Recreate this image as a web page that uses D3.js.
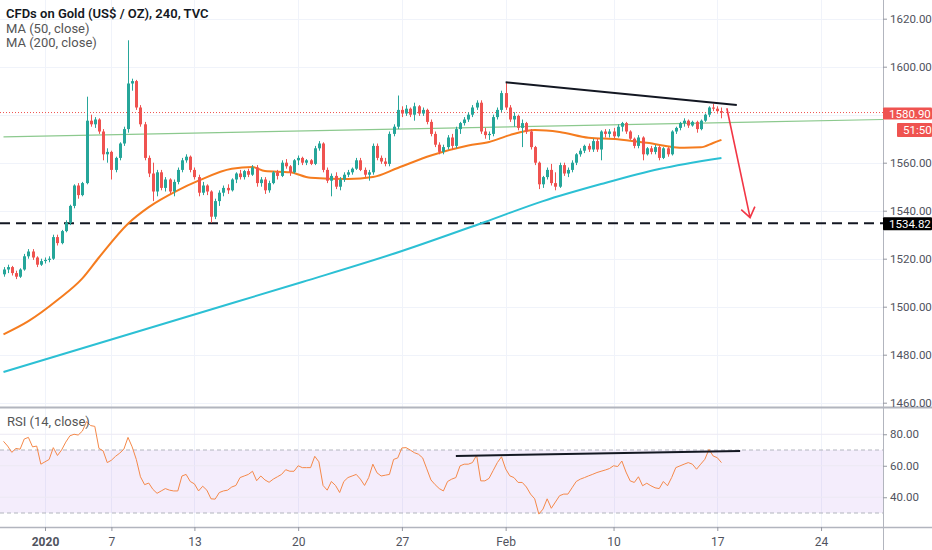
<!DOCTYPE html>
<html>
<head>
<meta charset="utf-8">
<script src="https://cdn.jsdelivr.net/npm/d3@7"></script>
<style>
  body { margin: 0; background: #fff; }
  svg { display: block; font-family: Roboto, "Liberation Sans", sans-serif; }
</style>
</head>
<body>
<svg id="chart" width="932" height="550"></svg>
<script>
// 4h candles of TVC gold: [open, high, low, close]
const ohlc = [
  [1513.5,1516.5,1512.5,1515.5],[1515.5,1517.5,1514,1516.5],[1516.5,1517,1513,1514],[1514,1515,1511.5,1512.5],
  [1512.5,1516,1512,1515.5],[1515.5,1522,1515,1521],[1521,1524,1520,1523],[1523,1524,1519.5,1520.5],
  [1520.5,1521,1516.5,1517.5],[1517.5,1520,1517,1519],[1519,1520.5,1518,1519.5],[1519.5,1521,1518.5,1520],
  [1520,1530,1519.5,1529],[1529,1530,1525.5,1526.5],[1526.5,1532,1526,1531.5],[1531.5,1536,1531,1535],
  [1535,1542.5,1534,1542],[1542,1551,1541,1550.5],[1550.5,1551.5,1545,1546.5],[1546.5,1552,1546,1551.5],
  [1551.5,1587.5,1551,1577.5],[1577.5,1580,1575,1576],[1576,1579,1574.5,1578],[1578,1578.5,1572,1573],
  [1573,1574,1561,1563.5],[1563.5,1566,1560,1564.5],[1564.5,1565,1553,1557],[1557,1562.5,1556,1562],
  [1562,1568.5,1561,1568],[1568,1575,1567,1574],[1574,1611,1572.5,1593],[1593,1595,1590,1594],
  [1594,1594.5,1582,1583],[1583,1584,1575,1576],[1576,1577,1561,1562],[1562,1563,1554,1555.5],
  [1555.5,1560,1544,1548],[1548,1557,1546,1556],[1556,1557,1548.5,1549.5],[1549.5,1554,1548,1553],
  [1553,1553.5,1547,1548],[1548,1553,1546,1552],[1552,1558,1551,1557],[1557,1562,1556,1561],
  [1561,1563.5,1560,1562.5],[1562.5,1563,1556,1557],[1557,1558,1553,1554],[1554,1555,1546,1547.5],
  [1547.5,1552,1546.5,1550.5],[1550.5,1551,1546.5,1548],[1548,1548.5,1535,1537.5],[1537.5,1545,1536.5,1544],
  [1544,1548.5,1542,1547.5],[1547.5,1550.5,1546,1549.5],[1549.5,1551,1547,1548.5],[1548.5,1553.5,1548,1553],
  [1553,1556,1551.5,1555.5],[1555.5,1557,1553,1554],[1554,1557,1553,1556.5],[1556.5,1557.5,1554,1555],
  [1555,1559,1554.5,1558],[1558,1559,1550,1551.5],[1551.5,1554,1550,1553],[1553,1554,1547,1548.5],
  [1548.5,1552.5,1547.5,1551.5],[1551.5,1556.5,1551,1556],[1556,1557,1553,1554.5],[1554.5,1561,1554,1560],
  [1560,1561.5,1557.5,1558.5],[1558.5,1559,1554.5,1556],[1556,1561.5,1555.5,1561],[1561,1563,1559,1562],
  [1562,1562.5,1559,1560],[1560,1561.5,1559,1561],[1561,1561.5,1559,1559.5],[1559.5,1567,1559,1566],
  [1566,1569,1565,1568],[1568,1568.5,1556,1557],[1557,1558,1551.5,1552.5],[1552.5,1555.5,1546,1554.5],
  [1554.5,1556,1549,1550],[1550,1554,1548.5,1553],[1553,1556,1552,1555],[1555,1557,1554,1556],
  [1556,1558,1555,1557.5],[1557.5,1562,1557,1561],[1561,1562,1556.5,1557],[1557,1558,1554,1555],
  [1555,1557,1552.5,1556],[1556,1568,1555,1567],[1567,1568,1561,1562],[1562,1563,1559.5,1560.5],
  [1560.5,1562,1558.5,1559.5],[1559.5,1573,1558.5,1572],[1572,1576,1571,1575],[1575,1588,1574,1582],
  [1582,1583.5,1579,1580.5],[1580.5,1584,1579.5,1582.5],[1582.5,1583,1579,1580],[1580,1585,1577.5,1583.5],
  [1583.5,1584,1579.5,1580.5],[1580.5,1583,1579.5,1582],[1582,1582.5,1576,1577],[1577,1578,1571,1572],
  [1572,1573,1566.5,1567.5],[1567.5,1568.5,1563.5,1564.5],[1564.5,1567.5,1563.5,1566.5],[1566.5,1571.5,1565.5,1570.5],
  [1570.5,1572,1565.5,1567],[1567,1575,1566,1574],[1574,1577,1572,1576.5],[1576.5,1579,1575.5,1578],
  [1578,1581,1577,1580],[1580,1584,1579,1583],[1583,1586,1582,1585],[1585,1586,1572,1573],
  [1573,1574.5,1570,1571.5],[1571.5,1573,1569.5,1572],[1572,1580,1571,1579],[1579,1583,1578,1582],
  [1582,1590,1581,1589],[1589,1593.5,1582,1583],[1583,1584,1577,1578],[1578,1581,1575,1579.5],
  [1579.5,1580,1573.5,1574.5],[1574.5,1578,1566.5,1576.5],[1576.5,1577,1572,1573],[1573,1574,1565.5,1566.5],
  [1566.5,1567,1559,1560],[1560,1560.5,1549,1551],[1551,1554.5,1549.5,1554],[1554,1558,1553,1557],
  [1557,1559.5,1550.5,1551.5],[1551.5,1556,1548.5,1550],[1550,1560,1549.5,1559],[1559,1560,1554.5,1555.5],
  [1555.5,1558,1554,1557],[1557,1561,1556,1560],[1560,1564,1559,1563.5],[1563.5,1566,1562.5,1565],
  [1565,1567.5,1564,1567],[1567,1568,1564.5,1565.5],[1565.5,1570,1564.5,1569],[1569,1570,1564.5,1565.5],
  [1565.5,1573.5,1561,1573],[1573,1574,1570.5,1572],[1572,1574,1570.5,1573],[1573,1574.5,1570,1571],
  [1571,1576,1570.5,1575],[1575,1577,1573,1576.5],[1576.5,1577,1572,1573],[1573,1573.5,1569.5,1570],
  [1570,1570.5,1566,1567],[1567,1571.5,1566,1570.5],[1570.5,1571,1561,1563.5],[1563.5,1566.5,1563,1566],
  [1566,1567,1563.5,1564.5],[1564.5,1567.5,1563.5,1566.5],[1566.5,1567,1561,1562],[1562,1566.5,1561.5,1566],
  [1566,1566.5,1562.5,1563.5],[1563.5,1573.5,1563,1573],[1573,1575,1572,1574.5],[1574.5,1577,1573.5,1576.5],
  [1576.5,1578.5,1575,1577.5],[1577.5,1578,1574.5,1575.5],[1575.5,1577.5,1575,1577],[1577,1577.5,1572.5,1574],
  [1574,1578,1573.5,1577.5],[1577.5,1580.5,1577,1580],[1580,1583.5,1579,1583],[1583,1584.5,1581.5,1582.5],
  [1582.5,1583.5,1580.5,1581.5],[1581.5,1583,1578.5,1580.9]
];

// RSI (14) per candle
const rsi = [
  75.5,72.5,68.5,71,70.5,77,78,72,72.5,61,62.5,64,71.5,66.5,70,75,79,80,79.5,82,
  88,85.5,85,71,69.5,62,63.5,66,68,70.5,78,72,64,53,48,49,45,42.5,44,45.5,
  44.5,44,44,53.5,54.5,50,48.5,44,47,44.5,39,38.8,43,44,44.5,46.5,47.5,52.5,53.5,54.5,
  56.5,50.5,53.5,51,49.5,51.5,53,54.5,57.5,56.5,56.5,60,58.8,58.8,58.8,66,62.5,47.5,44.5,50,
  47.5,43,50,52.5,53.5,54.5,51.5,47.5,52.5,61,55.5,53.5,54,54.5,64,65,71.3,71.5,70,68.3,
  67.3,65,58,51,48,45.5,44,50,51.5,52.5,59.9,61,61,62,66.7,50.4,50.4,52,57,62,
  65.7,58,53.6,52.5,49.4,49.4,46.5,42,39,29.3,32.5,39,33,37,41,42,42,46,50,51.5,
  52.5,53.6,54.6,55.7,56.5,57.3,58.2,60,59.5,63,56,50.4,49.4,53,47.3,48.9,47.3,46,45.5,50,
  47.3,52.5,58.8,59.9,61,62,61,57.8,61,64.1,70.4,66.2,65.1,62
];

// moving averages, read at candle indices
const ma50Idx = [0,6,13,19,23,30,35,42,47,55,60,63,69,74,83,89,95,103,112,117,122,128,134,141,148,155,164,168,171,173];
const ma50 = [1488.5,1494,1502.8,1511.8,1520.5,1534.6,1541.5,1548.5,1552.5,1557.5,1558.2,1556.5,1556,1553.7,1553.2,1554,1557.8,1563,1567.2,1568.6,1571.5,1573.6,1572.8,1570.4,1569.8,1568.3,1566.2,1566.4,1568.2,1569.5];
const ma200Idx = [0,24,48,72,96,116,130,144,158,173];
const ma200 = [1472.8,1485.3,1497.8,1510.3,1523.2,1535.3,1544,1551.1,1557.4,1562];

// axes
const timeTickIdx = [10,26,46,71,96,121,147,172,197];
const timeLabels = ["2020","7","13","20","27","Feb","10","17","24"];
const priceTicks = [1460,1480,1500,1520,1540,1560,1580,1600,1620];
const rsiTicks = [40,60,80];
const lastPrice = 1580.90;
const supportLevel = 1534.82;
const countdown = "51:50";

// drawings: [candle index, value]
const greenLine = [[0,1570.8],[212,1578]];
const topLine = [[121,1593.5],[176.7,1584]];
const arrowLine = [[174.3,1582.7],[179.9,1537.1]];
const rsiLine = [[109,66.2],[177.5,69.4]];

const svg = d3.select("#chart");
const plotRight = 883, mainBottom = 407, rsiTop = 408, rsiBottom = 527;
const up = "#26a69a", down = "#ef5350", grid = "#f0f3fa";

const x = d3.scaleLinear().domain([0,212]).range([3.5, 883.3]);
const y = d3.scaleLinear().domain([1460,1620]).range([402.7, 18.7]);
const yr = d3.scaleLinear().domain([30,70]).range([513, 450]);

svg.append("defs").append("clipPath").attr("id","mainClip")
  .append("rect").attr("x",0).attr("y",0).attr("width",plotRight).attr("height",mainBottom);
svg.append("defs").append("clipPath").attr("id","rsiClip")
  .append("rect").attr("x",0).attr("y",rsiTop).attr("width",plotRight).attr("height",rsiBottom - rsiTop);

// grid
const gridG = svg.append("g").attr("stroke", grid).attr("stroke-width",1);
gridG.selectAll(".vg").data(timeTickIdx).enter().append("line")
  .attr("x1", d => Math.round(x(d)) + 0.5).attr("x2", d => Math.round(x(d)) + 0.5)
  .attr("y1", 0).attr("y2", rsiBottom);
gridG.selectAll(".hg").data(priceTicks).enter().append("line")
  .attr("x1", 0).attr("x2", plotRight)
  .attr("y1", d => Math.round(y(d)) + 0.5).attr("y2", d => Math.round(y(d)) + 0.5);

// RSI band
svg.append("rect").attr("x",0).attr("width",plotRight)
  .attr("y", yr(70)).attr("height", yr(30) - yr(70))
  .attr("fill","rgba(149,80,230,0.1)");
svg.append("g").selectAll("line").data(rsiTicks).enter().append("line")
  .attr("x1",0).attr("x2",plotRight)
  .attr("y1", d => yr(d)).attr("y2", d => yr(d))
  .attr("stroke", "#ece9f3").attr("stroke-width",1);
svg.append("g").selectAll("line").data([70,30]).enter().append("line")
  .attr("x1",0).attr("x2",plotRight)
  .attr("y1", d => yr(d)).attr("y2", d => yr(d))
  .attr("stroke","#b2b5be").attr("stroke-dasharray","4,3").attr("stroke-width",1);

const main = svg.append("g").attr("clip-path","url(#mainClip)");

// last price dotted line
main.append("line").attr("x1",0).attr("x2",plotRight)
  .attr("y1", y(lastPrice)).attr("y2", y(lastPrice))
  .attr("stroke", down).attr("stroke-width",1).attr("stroke-dasharray","1,2");

// green trendline
main.append("path").datum(greenLine)
  .attr("d", d3.line().x(d => x(d[0])).y(d => y(d[1])))
  .attr("stroke","#8cc98e").attr("stroke-width",1.2).attr("fill","none");

// support dashed level
main.append("line").attr("x1",0).attr("x2",plotRight)
  .attr("y1", y(supportLevel)).attr("y2", y(supportLevel))
  .attr("stroke","#131722").attr("stroke-width",2).attr("stroke-dasharray","10,6");

// moving averages
const maLine = d3.line().x(d => x(d[0])).y(d => y(d[1])).curve(d3.curveMonotoneX);
main.append("path").datum(d3.zip(ma200Idx, ma200)).attr("d", maLine)
  .attr("fill","none").attr("stroke","#2cc0d4").attr("stroke-width",2);
main.append("path").datum(d3.zip(ma50Idx, ma50)).attr("d", maLine)
  .attr("fill","none").attr("stroke","#f57c1f").attr("stroke-width",2);

// candles
const candles = main.append("g").selectAll("g").data(ohlc).enter().append("g");
candles.append("line")
  .attr("x1", (d,i) => Math.round(x(i)) + 0.5).attr("x2", (d,i) => Math.round(x(i)) + 0.5)
  .attr("y1", d => y(d[1])).attr("y2", d => y(d[2]))
  .attr("stroke", d => d[3] >= d[0] ? up : down).attr("stroke-width",1);
candles.append("rect")
  .attr("x", (d,i) => Math.round(x(i)) - 1).attr("width", 3)
  .attr("y", d => y(Math.max(d[0], d[3])))
  .attr("height", d => Math.max(1, Math.abs(y(d[0]) - y(d[3]))))
  .attr("fill", d => d[3] >= d[0] ? up : down);

// resistance line
main.append("path").datum(topLine)
  .attr("d", d3.line().x(d => x(d[0])).y(d => y(d[1])))
  .attr("stroke","#131722").attr("stroke-width",2).attr("fill","none");

// red arrow
const a0 = [x(arrowLine[0][0]), y(arrowLine[0][1])];
const a1 = [x(arrowLine[1][0]), y(arrowLine[1][1])];
const ang = Math.atan2(a0[1] - a1[1], a0[0] - a1[0]);
const head = [ang + 0.62, ang - 0.62].map(t => [a1[0] + 12 * Math.cos(t), a1[1] + 12 * Math.sin(t)]);
main.append("path")
  .attr("d", `M${a0[0]},${a0[1]}L${a1[0]},${a1[1]}M${head[0][0]},${head[0][1]}L${a1[0]},${a1[1]}L${head[1][0]},${head[1][1]}`)
  .attr("stroke","#f23645").attr("stroke-width",1.6).attr("fill","none");

// RSI pane
const rsiG = svg.append("g").attr("clip-path","url(#rsiClip)");
rsiG.append("path").datum(rsi)
  .attr("d", d3.line().x((d,i) => x(i)).y(d => yr(d)))
  .attr("fill","none").attr("stroke","#f5894a").attr("stroke-width",1);
rsiG.append("path").datum(rsiLine)
  .attr("d", d3.line().x(d => x(d[0])).y(d => yr(d[1])))
  .attr("stroke","#131722").attr("stroke-width",2).attr("fill","none");

// pane borders
svg.append("line").attr("x1",0).attr("x2",932).attr("y1",mainBottom + 0.5).attr("y2",mainBottom + 0.5)
  .attr("stroke","#b2b5be").attr("stroke-width",2);
svg.append("line").attr("x1",0).attr("x2",932).attr("y1",rsiBottom + 0.5).attr("y2",rsiBottom + 0.5)
  .attr("stroke","#b2b5be").attr("stroke-width",1.5);
svg.append("line").attr("x1",plotRight + 0.5).attr("x2",plotRight + 0.5).attr("y1",0).attr("y2",550)
  .attr("stroke","#b2b5be").attr("stroke-width",1);

// price axis (hide labels covered by markers)
const fmt = d3.format(".2f");
const shownTicks = priceTicks.filter(v => Math.abs(y(v) - y(lastPrice)) > 10);
const pAxis = svg.append("g").attr("transform", `translate(${plotRight},0)`)
  .call(d3.axisRight(y).tickValues(shownTicks).tickFormat(fmt).tickSize(4).tickPadding(3));
const rAxis = svg.append("g").attr("transform", `translate(${plotRight},0)`)
  .call(d3.axisRight(yr).tickValues(rsiTicks).tickFormat(fmt).tickSize(4).tickPadding(3));
const tAxis = svg.append("g").attr("transform", `translate(0,${rsiBottom})`)
  .call(d3.axisBottom(x).tickValues(timeTickIdx).tickFormat((d,i) => timeLabels[i]).tickSize(4).tickPadding(6));
[pAxis, rAxis, tAxis].forEach(g => {
  g.select(".domain").remove();
  g.selectAll(".tick line").attr("stroke","#9598a1");
  g.selectAll("text").attr("fill","#50535e").attr("font-size",11.5)
    .attr("font-family","Roboto, 'Liberation Sans', sans-serif");
});
tAxis.selectAll("text").attr("font-size",12).attr("font-weight",(d,i) => timeLabels[i] === "2020" ? 700 : 400);

// price markers
function marker(yc, h, x0, label, fill) {
  svg.append("rect").attr("x", x0).attr("y", yc - h / 2).attr("width", 932 - x0).attr("height", h)
    .attr("fill", fill).attr("rx", 1);
  svg.append("text").attr("x", x0 + 6).attr("y", yc).attr("dy","0.36em")
    .attr("fill","#fff").attr("font-size",11.5).text(label);
}
marker(y(lastPrice) + 1, 12, plotRight, fmt(lastPrice), down);
marker(y(lastPrice) + 17.5, 14, 897, countdown, down);
marker(y(supportLevel) + 0.5, 13, plotRight, fmt(supportLevel), "#000");

// legends
svg.append("text").attr("x",6).attr("y",18).attr("font-size",13).attr("font-weight",600)
  .attr("fill","#131722").text("CFDs on Gold (US$ / OZ), 240, TVC");
svg.append("text").attr("x",6).attr("y",33).attr("font-size",13).attr("fill","#555")
  .text("MA (50, close)");
svg.append("text").attr("x",6).attr("y",47).attr("font-size",13).attr("fill","#555")
  .text("MA (200, close)");
svg.append("text").attr("x",7).attr("y",426).attr("font-size",13).attr("fill","#555")
  .text("RSI (14, close)");
</script>
</body>
</html>
